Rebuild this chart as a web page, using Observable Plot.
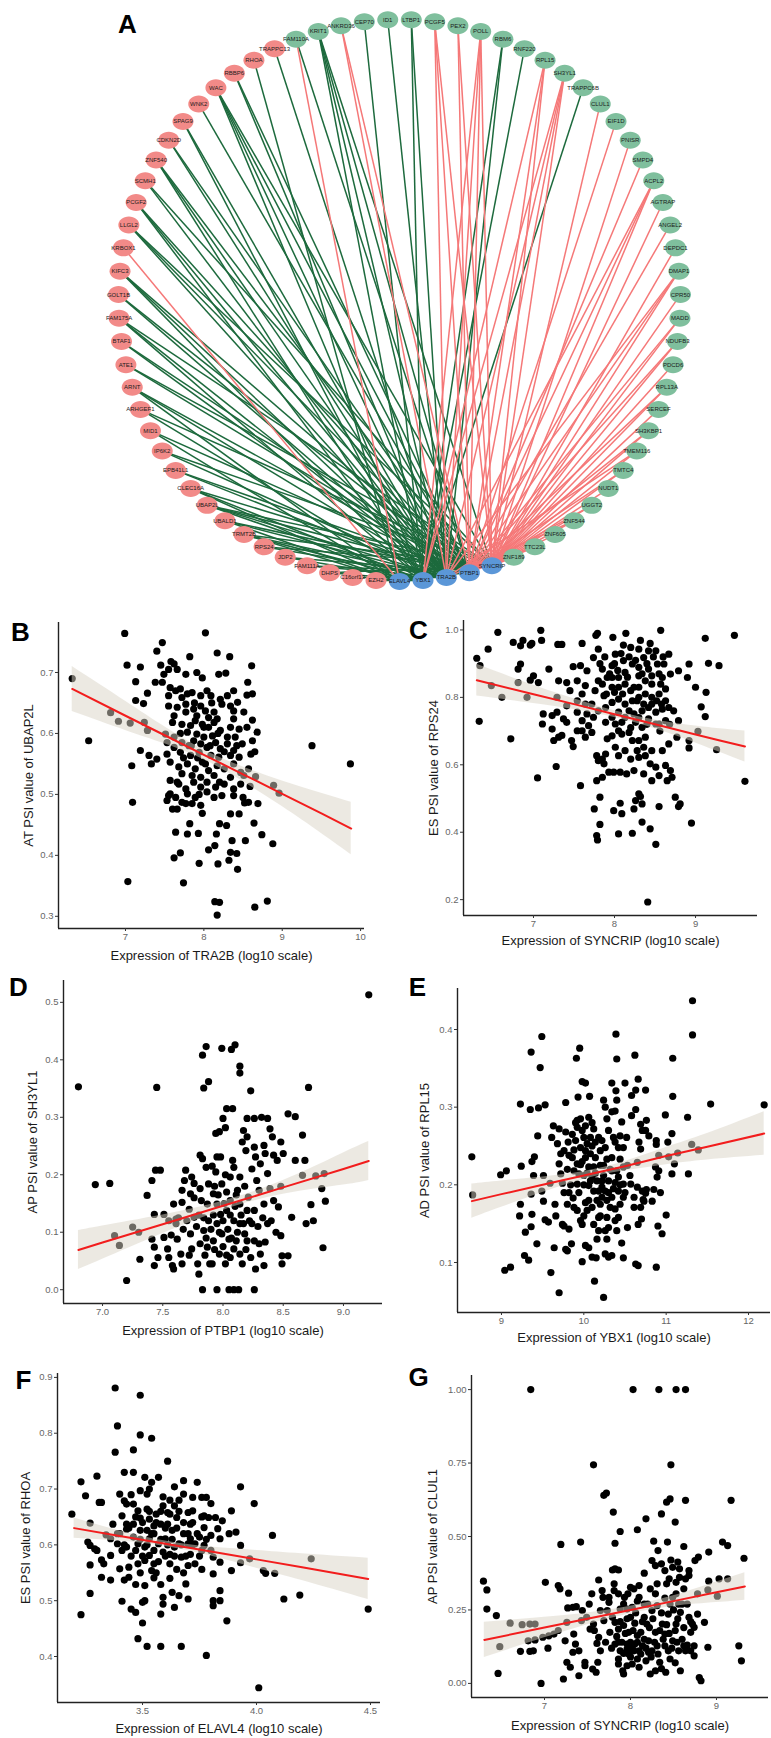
<!DOCTYPE html>
<html><head><meta charset="utf-8">
<script src="https://cdn.jsdelivr.net/npm/d3@7"></script>
<script src="https://cdn.jsdelivr.net/npm/@observablehq/plot@0.6"></script>
<style>
body{margin:0;background:#fff;}
#page{position:relative;width:771px;height:1738px;overflow:hidden;background:#fff;}
.panel{position:absolute;}
.panel svg{overflow:visible;}
</style></head><body><div id="page"></div>
<script>
// ---------------- Network (panel A) ----------------
const greenNodes = ["FAM110A","KRIT1","ANKRD36","CEP70","ID1","LTBP1","PCGF5","PEX2","POLL","RBM6","RNF220","RPL15","SH3YL1","TRAPPC6B","CLUL1","EIF1D","PNISR","SMPD4","ACPL2","AGTRAP","ANGEL2","DEPDC1","DMAP1","CPR50","MADD","NDUFB3","PDCD6","RPL13A","SERCEF","SH3KBP1","TMEM116","TMTC4","NUDT1","UGGT2","ZNF544","ZNF605","TTC23L","ZNF189"];
const hubNodes = ["SYNCRIP","PTBP1","TRA2B","YBX1","ELAVL4"];
const redNodes = ["EZH2","C16orf13","DHPS","FAM111A","JDP2","RPS24","TRMT2B","UBALD1","UBAP2L","CLEC16A","EPB41L1","IP6K2","MID1","ARHGEF1","ARNT","ATE1","BTAF1","FAM175A","GOLT1B","KIFC3","KRBOX1","LLGL2","PCGF2","SCMH1","ZNF540","CDKN2D","SPAG9","WNK2","WAC","RBBP6","RHOA","TRAPPC13"];
const hubCode = {E:"ELAVL4", Y:"YBX1", T:"TRA2B", P:"PTBP1", S:"SYNCRIP"};
const negativeEdges = [["WNK2","P"],["SPAG9","YT"],["WAC","YTPS"],["RBBP6","TP"],["RHOA","E"],["TRAPPC13","T"],["FAM110A","P"],["KRIT1","YTPS"],["CEP70","Y"],["ID1","T"],["LTBP1","YT"],["RBM6","YT"],["RNF220","Y"],["TRAPPC6B","Y"],["CDKN2D","TP"],["ZNF540","YTP"],["SCMH1","TS"],["PCGF2","YTP"],["LLGL2","TPS"],["KIFC3","YTP"],["GOLT1B","TP"],["FAM175A","YTS"],["BTAF1","TP"],["ATE1","PS"],["ARNT","ETP"],["ARHGEF1","YS"],["MID1","EP"],["IP6K2","TS"],["EPB41L1","TP"],["CLEC16A","EYP"],["UBAP2L","YTPS"],["UBALD1","ETP"],["TRMT2B","EYTS"],["RPS24","TS"],["JDP2","YP"],["FAM111A","TP"],["DHPS","YS"],["C16orf13","T"],["EZH2","YP"]];
const positiveEdges = [["FAM110A","E"],["KRBOX1","E"],["ANKRD36","TP"],["PCGF5","TPS"],["PEX2","PS"],["POLL","YTPS"],["RPL15","YPS"],["SH3YL1","YTPS"],["CLUL1","S"],["EIF1D","P"],["PNISR","S"],["SMPD4","P"],["ACPL2","TPS"],["AGTRAP","S"],["ANGEL2","P"],["DEPDC1","S"],["DMAP1","TPS"],["CPR50","S"],["MADD","PS"],["NDUFB3","PS"],["PDCD6","S"],["RPL13A","PS"],["SERCEF","S"],["SH3KBP1","PS"],["TMEM116","TS"],["TMTC4","PS"],["NUDT1","S"],["UGGT2","PS"],["ZNF544","TS"],["ZNF605","S"],["TTC23L","PS"],["ZNF189","S"]];

// ---------------- Scatter data ----------------
const pointsB = [[6.32,0.69],[6.53,0.588],[7.02,0.712],[7.19,0.709],[7.13,0.685],[7.13,0.654],[7.08,0.547],[7.09,0.487],[7.03,0.357],[6.81,0.634],[6.91,0.62],[7.06,0.617],[7.28,0.605],[7.24,0.618],[7.28,0.666],[7.23,0.649],[7.19,0.572],[7.30,0.564],[7.33,0.55],[7.40,0.558],[7.38,0.684],[7.45,0.712],[7.40,0.735],[6.99,0.764],[8.02,0.765],[7.47,0.749],[7.47,0.684],[7.49,0.697],[7.58,0.718],[7.62,0.714],[7.55,0.705],[7.66,0.705],[7.77,0.697],[7.82,0.726],[7.91,0.70],[7.98,0.691],[8.17,0.732],[8.19,0.697],[8.28,0.699],[8.33,0.726],[8.61,0.711],[8.56,0.684],[8.55,0.663],[8.62,0.665],[8.62,0.622],[8.68,0.602],[8.65,0.57],[8.66,0.529],[8.69,0.485],[8.74,0.434],[8.88,0.419],[8.81,0.325],[8.65,0.315],[9.38,0.58],[9.87,0.55],[8.89,0.515],[8.96,0.502],[8.17,0.302],[8.14,0.324],[8.2,0.323],[7.74,0.355],[7.62,0.396],[7.70,0.404],[7.64,0.438],[7.94,0.387],[7.98,0.469],[7.82,0.452],[7.79,0.435],[7.93,0.436],[8.06,0.409],[8.14,0.416],[8.18,0.386],[8.16,0.435],[8.2,0.452],[8.29,0.449],[8.36,0.424],[8.34,0.405],[8.42,0.403],[8.43,0.377],[8.32,0.392],[8.53,0.424],[8.64,0.453],[8.52,0.486],[8.38,0.498],[8.23,0.498],[8.34,0.468],[8.45,0.468],[8.57,0.487],[8.59,0.513],[8.5,0.495],
[7.57,0.675],[7.64,0.670],[7.70,0.673],[7.79,0.665],[7.72,0.659],[7.85,0.667],[7.55,0.662],[7.96,0.662],[8.04,0.670],[8.09,0.662],[8.21,0.656],[8.30,0.662],[8.38,0.670],[8.43,0.651],
[7.55,0.645],[7.66,0.643],[7.77,0.648],[7.87,0.640],[7.96,0.645],[8.02,0.637],[8.13,0.635],[8.23,0.648],[8.34,0.645],[8.38,0.637],[7.91,0.629],[8.06,0.626],[8.17,0.624],[7.77,0.635],[7.62,0.629],[8.38,0.624],[8.51,0.635],
[7.60,0.618],[7.72,0.615],[7.83,0.613],[7.89,0.621],[7.98,0.615],[8.06,0.610],[8.13,0.618],[8.21,0.605],[8.34,0.610],[8.45,0.607],[7.79,0.602],[7.91,0.599],[8.0,0.594],[8.11,0.596],[8.30,0.594],[8.40,0.594],[8.55,0.610],[7.51,0.599],[7.62,0.594],
[7.53,0.585],[7.62,0.577],[7.72,0.585],[7.81,0.580],[7.87,0.588],[7.96,0.583],[8.04,0.577],[8.15,0.585],[8.21,0.575],[8.30,0.583],[8.38,0.572],[8.49,0.583],[8.62,0.588],[7.70,0.569],[7.83,0.564],[7.94,0.569],[8.09,0.564],[8.19,0.561],[8.34,0.564],[8.45,0.561],[7.53,0.566],[8.60,0.566],
[7.57,0.553],[7.68,0.545],[7.79,0.55],[7.89,0.542],[7.98,0.553],[8.06,0.539],[8.17,0.547],[8.26,0.542],[8.38,0.55],[8.47,0.536],[8.57,0.542],[7.72,0.534],[7.85,0.531],[7.96,0.528],[8.13,0.531],[8.34,0.528],[8.51,0.531],
[7.57,0.523],[7.68,0.517],[7.77,0.509],[7.87,0.52],[7.96,0.512],[8.04,0.52],[8.15,0.512],[8.26,0.517],[8.38,0.509],[8.47,0.517],[7.57,0.501],[7.64,0.495],[7.79,0.501],[7.89,0.495],[8.04,0.504],[8.13,0.495],[7.53,0.49],[7.72,0.487],[7.85,0.485],[7.96,0.482],[7.60,0.476],[7.66,0.476],[7.77,0.485],[7.55,0.498],
[7.70,0.60],[7.74,0.56],[7.84,0.58],[7.92,0.56],[8.00,0.61],[8.08,0.58],[8.18,0.60],[8.26,0.57],[8.02,0.55],[7.88,0.65],[8.10,0.65],[7.66,0.52],[7.94,0.50],[8.20,0.52],[8.42,0.58]];
const fitB = {x:[6.32,7.0,7.5,8.0,8.5,9.0,9.5,9.88], y:[0.673,0.629,0.597,0.565,0.533,0.501,0.469,0.444], hw:[0.037,0.024,0.014,0.008,0.012,0.021,0.033,0.043]};

const pointsC = [[6.56,0.993],[6.87,0.969],[6.96,0.955],[7.09,0.999],[7.10,0.969],[7.30,0.957],[7.35,0.957],[7.6,0.96],[7.77,0.984],[7.79,0.99],[7.98,0.978],[8.14,0.99],[8.11,0.955],[8.32,0.969],[8.44,0.96],[8.57,0.999],[9.12,0.975],[9.48,0.984],
[6.30,0.916],[6.44,0.943],[6.75,0.963],[6.84,0.953],[6.98,0.96],[6.33,0.729],[6.34,0.894],[6.48,0.835],[6.61,0.80],[6.92,0.80],[6.81,0.844],[6.84,0.899],[6.81,0.884],[6.96,0.851],[7.0,0.864],[7.06,0.844],[6.72,0.677],[7.05,0.561],[7.28,0.595],[7.49,0.654],[7.58,0.538],[7.19,0.884],[7.12,0.751],[7.11,0.721],[7.23,0.706],[7.25,0.672],[7.31,0.682],[7.35,0.687],[7.23,0.746],[7.29,0.756],[7.31,0.849],[7.41,0.844],[7.45,0.82],[7.49,0.891],[7.54,0.849],[7.58,0.894],[7.66,0.879],[7.64,0.835],[7.60,0.81],[7.37,0.736],[7.41,0.726],[7.54,0.756],[7.60,0.731],[7.66,0.751],[7.64,0.78],[7.68,0.716],[7.60,0.701],[7.72,0.696],[7.74,0.918],[7.80,0.943],[7.85,0.884],[7.91,0.859],[7.97,0.894],[8.01,0.928],[7.80,0.849],[7.76,0.82],[7.87,0.805],[7.97,0.83],[8.05,0.859],[8.11,0.909],[8.20,0.948],[8.22,0.899],[8.30,0.864],[8.30,0.943],[8.36,0.918],[8.42,0.938],[8.51,0.938],[8.42,0.884],[8.53,0.899],[8.61,0.899],[8.67,0.928],[8.69,0.869],[8.79,0.879],[8.90,0.859],[8.92,0.899],[9.16,0.901],[9.29,0.894],[9.0,0.83],[9.07,0.772],[9.13,0.815],[9.12,0.743],[9.03,0.699],[8.92,0.672],[8.92,0.65],[9.26,0.645],[9.61,0.551],[8.95,0.427],[8.55,0.476],[8.51,0.364],[8.44,0.41],[8.34,0.43],[8.41,0.193],[8.22,0.397],[8.05,0.395],[7.82,0.423],[7.78,0.39],[7.79,0.377],[7.75,0.469],[7.82,0.504],[7.99,0.464],[8.07,0.486],[8.09,0.455],[8.24,0.469],[8.26,0.494],[8.30,0.514],[8.34,0.484],[8.32,0.506],[8.75,0.504],[8.81,0.484],[8.79,0.476],[8.55,0.721],[8.63,0.731],[8.73,0.76],[8.79,0.731],[8.77,0.682],[8.67,0.662],[8.59,0.642],[8.63,0.598],[8.69,0.583],[8.71,0.563],[8.65,0.553],[8.55,0.568],[8.51,0.593],[8.46,0.553],[8.36,0.573],[8.24,0.583],[8.15,0.573],[8.07,0.578],[7.99,0.578],[7.93,0.578],[7.85,0.563],[7.78,0.553],[7.78,0.627],[7.85,0.617],[7.87,0.603],[7.80,0.612],[7.89,0.632],[7.91,0.677],[7.97,0.686],[8.05,0.701],[8.09,0.691],[8.18,0.696],[8.22,0.672],[8.30,0.672],[8.34,0.711],[8.38,0.682],[8.36,0.652],[8.28,0.642],[8.20,0.617],[8.30,0.622],[8.38,0.627],[8.46,0.642],[8.44,0.603],[8.13,0.642],[8.05,0.627],[8.01,0.652],[7.64,0.682],[7.54,0.701],[7.47,0.672],
[7.89,0.77],[7.97,0.785],[8.05,0.795],[8.13,0.78],[8.22,0.79],[8.30,0.80],[8.38,0.81],[8.46,0.80],[8.55,0.81],[8.63,0.79],[8.67,0.77],[8.05,0.756],[8.13,0.741],[8.24,0.751],[8.34,0.76],[8.42,0.77],[8.51,0.756],[8.59,0.765],[7.97,0.741],[7.89,0.726],[8.01,0.721],[8.09,0.726],[8.26,0.726],[8.42,0.736],[8.51,0.721],[8.46,0.839],[8.38,0.849],[8.13,0.839],[8.24,0.83],[8.05,0.83],[8.57,0.839],[8.30,0.83],[8.63,0.825],[7.97,0.859],[8.13,0.874],[8.30,0.889],[8.46,0.864],[8.59,0.859],[7.85,0.839],[7.72,0.78],[7.80,0.76],[7.74,0.741],[7.54,0.79],[7.41,0.775],[7.29,0.80],
[7.82,0.90],[7.88,0.92],[7.94,0.87],[8.00,0.90],[8.04,0.88],[8.08,0.93],[8.16,0.86],[8.18,0.92],[8.26,0.91],[8.34,0.87],[8.40,0.90],[8.48,0.92],[8.55,0.87],[8.60,0.92],[7.90,0.81],[8.00,0.815],[8.10,0.81],[8.20,0.82],[8.28,0.79],[8.36,0.78],[8.46,0.78],[8.52,0.79],[8.58,0.78],[8.18,0.76],[8.30,0.74],[8.40,0.72],[8.20,0.71],[8.56,0.70],[8.68,0.72]];
const fitC = {x:[6.3,7.0,7.5,8.0,8.5,9.0,9.3,9.61], y:[0.851,0.809,0.780,0.750,0.720,0.690,0.672,0.654], hw:[0.047,0.027,0.016,0.010,0.013,0.025,0.035,0.046]};

const pointsD = [[9.21,0.513],[6.80,0.353],[6.94,0.183],[7.06,0.185],[7.10,0.094],[7.14,0.077],[7.25,0.109],[7.30,0.10],[7.20,0.016],[7.31,0.053],[7.37,0.164],[7.41,0.19],[7.44,0.208],[7.48,0.208],[7.45,0.352],[7.43,0.131],[7.51,0.131],[7.41,0.088],[7.43,0.074],[7.43,0.042],[7.46,0.056],[7.51,0.091],[7.54,0.071],[7.55,0.056],[7.58,0.042],[7.59,0.036],[7.61,0.115],[7.62,0.088],[7.65,0.062],[7.66,0.045],[7.69,0.208],[7.66,0.173],[7.66,0.152],[7.68,0.19],[7.74,0.196],[7.73,0.167],[7.59,0.149],[7.61,0.123],[7.70,0.12],[7.76,0.126],[7.73,0.097],[7.74,0.071],[7.79,0.045],[7.80,0.027],[7.81,0.234],[7.83,0.228],[7.81,0.176],[7.86,0.213],[7.83,0.408],[7.86,0.423],[7.84,0.351],[7.88,0.362],[7.94,0.272],[7.97,0.275],[7.95,0.231],[7.98,0.231],[8.0,0.298],[8.03,0.315],[8.08,0.315],[8.02,0.282],[7.99,0.42],[8.07,0.418],[8.10,0.426],[8.14,0.389],[8.14,0.377],[8.23,0.346],[8.20,0.298],[8.26,0.298],[8.32,0.30],[8.37,0.298],[8.39,0.28],[8.41,0.266],[8.48,0.257],[8.17,0.277],[8.20,0.266],[8.16,0.257],[8.19,0.242],[8.26,0.248],[8.27,0.231],[8.34,0.251],[8.35,0.237],[8.42,0.234],[8.45,0.225],[8.50,0.237],[8.31,0.219],[8.37,0.202],[8.54,0.306],[8.60,0.301],[8.66,0.269],[8.68,0.225],[8.60,0.225],[8.66,0.199],[8.77,0.198],[8.84,0.202],[8.82,0.176],[8.85,0.154],[8.73,0.148],[8.75,0.12],[8.69,0.115],[8.57,0.126],[8.83,0.073],[8.71,0.352],[8.48,0.094],[8.49,0.059],[8.49,0.045],[8.46,0.144],[8.42,0.155],[8.37,0.115],[8.35,0.083],[8.34,0.042],[8.27,0.036],[8.31,0.062],[8.26,0.085],[8.23,0.056],[8.24,0.115],[8.26,0.138],[8.21,0.161],[8.14,0.196],[8.09,0.213],[8.06,0.196],[8.12,0.173],[8.06,0.155],[7.99,0.184],[7.94,0.205],[7.92,0.167],[7.87,0.149],[7.88,0.184],[8.09,0.12],[8.14,0.115],[8.18,0.097],[8.11,0.085],[8.05,0.088],[7.99,0.097],[7.95,0.115],[7.92,0.085],[7.97,0.062],[8.02,0.045],[8.06,0.056],[8.09,0.071],[8.14,0.062],[7.87,0.074],[7.84,0.103],[7.81,0.08],[7.91,0.045],[7.98,0.131],[8.03,0.138],[8.14,0.149],[8.20,0.138],[8.30,0.173],[8.34,0.149],[7.95,0.149],[7.83,0.0],[7.95,0.0],[8.05,0.0],[8.09,0.0],[8.13,0.0],[8.26,0.0],[8.54,0.059],[8.48,0.18],[8.39,0.176],
[7.72,0.14],[7.76,0.16],[7.78,0.11],[7.80,0.13],[7.82,0.155],[7.84,0.125],[7.86,0.09],[7.88,0.12],[7.90,0.105],[7.92,0.13],[7.93,0.18],[7.96,0.165],[7.97,0.10],[8.00,0.12],[8.01,0.15],[8.03,0.17],[8.04,0.105],[8.06,0.13],[8.07,0.09],[8.10,0.145],[8.11,0.165],[8.12,0.10],[8.15,0.13],[8.17,0.115],[8.18,0.18],[8.20,0.085],[8.22,0.12],[8.24,0.21],[8.28,0.19],[8.29,0.11],[7.85,0.06],[7.89,0.045],[7.93,0.07],[8.00,0.075],[8.03,0.06],[8.16,0.045],[8.19,0.07],[7.76,0.185],[8.02,0.2],[8.08,0.225],[7.91,0.215],[7.72,0.06],[7.63,0.125],[7.67,0.105],[7.55,0.12],[7.57,0.095],[8.33,0.125],[8.40,0.12],[8.44,0.10],[8.30,0.08]];
const fitD = {x:[6.8,7.0,7.5,8.0,8.5,9.0,9.21], y:[0.069,0.082,0.114,0.146,0.178,0.210,0.224], hw:[0.034,0.029,0.016,0.008,0.012,0.028,0.034]};

const pointsE = [[8.64,0.236],[8.65,0.187],[8.99,0.213],[9.06,0.218],[9.04,0.09],[9.11,0.094],[9.23,0.304],[9.35,0.297],[9.36,0.371],[9.47,0.351],[9.49,0.391],[9.45,0.299],[9.53,0.303],[9.24,0.224],[9.23,0.175],[9.22,0.16],[9.29,0.139],[9.28,0.109],[9.33,0.103],[9.36,0.146],[9.37,0.162],[9.43,0.124],[9.36,0.188],[9.40,0.236],[9.44,0.263],[9.37,0.23],[9.39,0.212],[9.51,0.212],[9.49,0.192],[9.51,0.179],[9.53,0.155],[9.57,0.152],[9.59,0.202],[9.63,0.276],[9.70,0.272],[9.68,0.253],[9.61,0.261],[9.60,0.087],[9.64,0.119],[9.70,0.061],[9.70,0.227],[9.72,0.214],[9.74,0.202],[9.65,0.175],[9.66,0.16],[9.74,0.149],[9.76,0.147],[9.80,0.175],[9.82,0.19],[9.78,0.117],[9.80,0.115],[9.85,0.124],[9.82,0.143],[9.78,0.306],[9.78,0.268],[9.81,0.255],[9.76,0.244],[9.82,0.238],[9.88,0.218],[9.87,0.183],[9.92,0.201],[9.93,0.313],[9.91,0.363],[9.95,0.376],[9.98,0.333],[10.02,0.331],[9.92,0.283],[9.96,0.285],[9.98,0.27],[10.02,0.276],[10.06,0.287],[10.07,0.314],[10.12,0.272],[10.0,0.261],[10.04,0.253],[10.10,0.25],[10.02,0.235],[10.06,0.223],[10.14,0.235],[9.96,0.226],[10.0,0.212],[9.92,0.227],[10.06,0.199],[10.12,0.192],[10.02,0.177],[10.10,0.171],[10.04,0.167],[9.96,0.154],[9.98,0.149],[10.02,0.122],[10.06,0.119],[9.98,0.101],[10.10,0.107],[10.15,0.106],[10.13,0.076],[10.20,0.175],[10.18,0.158],[10.16,0.13],[10.24,0.212],[10.22,0.197],[10.26,0.192],[10.18,0.261],[10.22,0.257],[10.26,0.248],[10.20,0.225],[10.24,0.309],[10.26,0.30],[10.28,0.285],[10.34,0.331],[10.34,0.294],[10.38,0.295],[10.36,0.261],[10.38,0.255],[10.28,0.233],[10.34,0.218],[10.30,0.205],[10.38,0.203],[10.34,0.184],[10.32,0.171],[10.38,0.169],[10.28,0.158],[10.26,0.141],[10.28,0.13],[10.26,0.111],[10.30,0.107],[10.34,0.109],[10.24,0.055],[10.39,0.394],[10.40,0.362],[10.39,0.321],[10.40,0.309],[10.50,0.331],[10.46,0.281],[10.44,0.263],[10.48,0.248],[10.52,0.261],[10.44,0.233],[10.48,0.223],[10.53,0.225],[10.42,0.192],[10.44,0.175],[10.42,0.158],[10.40,0.141],[10.46,0.125],[10.48,0.106],[10.53,0.145],[10.56,0.212],[10.57,0.201],[10.61,0.184],[10.65,0.197],[10.58,0.289],[10.63,0.297],[10.58,0.315],[10.62,0.367],[10.63,0.322],[10.66,0.336],[10.69,0.278],[10.71,0.27],[10.67,0.255],[10.69,0.246],[10.65,0.229],[10.61,0.171],[10.69,0.171],[10.70,0.156],[10.66,0.149],[10.63,0.098],[10.66,0.096],[10.71,0.192],[10.72,0.181],[10.75,0.322],[10.76,0.283],[10.75,0.27],[10.79,0.263],[10.75,0.189],[10.76,0.194],[10.73,0.179],[10.83,0.179],[10.85,0.194],[10.87,0.223],[10.88,0.257],[10.88,0.252],[10.91,0.238],[10.91,0.218],[10.89,0.21],[10.90,0.147],[10.95,0.137],[10.93,0.19],[10.88,0.094],[10.99,0.29],[11.0,0.161],[11.02,0.255],[11.03,0.236],[11.07,0.266],[11.07,0.214],[11.08,0.314],[11.08,0.363],[11.10,0.227],[11.14,0.241],[11.26,0.287],[11.27,0.214],[11.31,0.252],[11.32,0.393],[11.32,0.437],[11.39,0.245],[11.54,0.304],[12.19,0.303],
[9.90,0.257],[9.96,0.248],[10.02,0.244],[10.08,0.261],[10.14,0.255],[10.20,0.244],[9.86,0.235],[9.94,0.214],[10.10,0.21],[10.16,0.205],[10.22,0.184],[10.28,0.18],[10.18,0.192],[10.12,0.223],[10.34,0.235],[10.42,0.248],[10.40,0.218],[10.48,0.201],[10.38,0.154],[10.30,0.145],[9.86,0.265],[9.92,0.274],[10.08,0.24],[10.18,0.141],[10.12,0.149],[9.88,0.171],[9.92,0.167],[10.42,0.21],[10.48,0.184],
[9.72,0.24],[9.76,0.19],[9.80,0.22],[9.84,0.20],[9.88,0.245],[9.94,0.19],[9.98,0.23],[10.00,0.20],[10.04,0.215],[10.06,0.18],[10.08,0.205],[10.14,0.215],[10.16,0.18],[10.22,0.205],[10.24,0.225],[10.30,0.19],[10.32,0.22],[10.36,0.195],[10.44,0.2],[10.50,0.19],[9.90,0.28],[10.10,0.28],[10.30,0.27],[10.00,0.16],[10.20,0.16]];
const fitE = {x:[8.64,9.0,9.5,10.0,10.5,11.0,11.5,12.19], y:[0.179,0.188,0.200,0.212,0.224,0.237,0.249,0.266], hw:[0.022,0.017,0.010,0.005,0.006,0.011,0.017,0.028]};

const pointsF = [[3.19,0.655],[3.23,0.713],[3.23,0.475],[3.25,0.688],[3.27,0.564],[3.27,0.639],[3.27,0.513],[3.26,0.605],[3.27,0.599],[3.29,0.593],[3.30,0.59],[3.30,0.723],[3.31,0.676],[3.32,0.542],[3.32,0.573],[3.34,0.618],[3.33,0.566],[3.32,0.676],[3.36,0.537],[3.36,0.611],[3.36,0.581],[3.38,0.881],[3.39,0.813],[3.38,0.766],[3.37,0.637],[3.39,0.62],[3.40,0.557],[3.40,0.691],[3.39,0.602],[3.42,0.537],[3.41,0.59],[3.41,0.499],[3.41,0.652],[3.42,0.679],[3.42,0.73],[3.43,0.673],[3.43,0.637],[3.43,0.628],[3.43,0.596],[3.44,0.542],[3.45,0.485],[3.46,0.77],[3.46,0.73],[3.46,0.637],[3.46,0.614],[3.47,0.479],[3.47,0.529],[3.48,0.566],[3.48,0.602],[3.49,0.797],[3.49,0.697],[3.49,0.648],[3.48,0.432],[3.49,0.868],[3.50,0.497],[3.50,0.46],[3.51,0.721],[3.51,0.527],[3.51,0.50],[3.51,0.572],[3.52,0.664],[3.52,0.691],[3.52,0.418],[3.53,0.611],[3.53,0.646],[3.53,0.581],[3.54,0.791],[3.54,0.712],[3.55,0.566],[3.55,0.541],[3.55,0.634],[3.56,0.655],[3.57,0.602],[3.57,0.721],[3.58,0.418],[3.58,0.529],[3.58,0.476],[3.59,0.506],[3.59,0.494],[3.59,0.587],[3.59,0.686],[3.59,0.67],[3.60,0.611],[3.61,0.75],[3.61,0.637],[3.62,0.566],[3.62,0.583],[3.63,0.626],[3.63,0.515],[3.64,0.488],[3.64,0.704],[3.64,0.67],[3.65,0.649],[3.65,0.556],[3.66,0.602],[3.66,0.509],[3.67,0.418],[3.68,0.715],[3.68,0.691],[3.68,0.62],[3.69,0.53],[3.70,0.503],[3.70,0.563],[3.70,0.658],[3.71,0.637],[3.71,0.583],[3.71,0.611],[3.72,0.685],[3.72,0.661],[3.73,0.602],[3.74,0.712],[3.75,0.614],[3.76,0.59],[3.76,0.556],[3.76,0.685],[3.77,0.631],[3.78,0.685],[3.77,0.599],[3.78,0.402],[3.80,0.674],[3.80,0.617],[3.81,0.578],[3.81,0.548],[3.81,0.50],[3.81,0.491],[3.82,0.649],[3.83,0.629],[3.84,0.569],[3.84,0.50],[3.84,0.518],[3.84,0.611],[3.85,0.643],[3.87,0.464],[3.88,0.62],[3.89,0.661],[3.89,0.554],[3.91,0.623],[3.93,0.599],[3.93,0.704],[3.93,0.568],[3.97,0.575],[3.99,0.674],[4.03,0.554],[4.04,0.549],[4.01,0.344],[4.07,0.617],[4.08,0.549],[4.12,0.503],[4.19,0.51],[4.24,0.575],[4.49,0.485],
[3.46,0.673],[3.49,0.626],[3.52,0.626],[3.55,0.62],[3.58,0.637],[3.61,0.658],[3.64,0.596],[3.67,0.578],[3.70,0.602],[3.73,0.566],[3.77,0.652],[3.79,0.649],[3.54,0.554],[3.51,0.596],[3.48,0.661],
[3.40,0.62],[3.42,0.60],[3.44,0.63],[3.45,0.58],[3.47,0.65],[3.47,0.59],[3.49,0.61],[3.50,0.64],[3.50,0.58],[3.52,0.60],[3.53,0.66],[3.54,0.62],[3.55,0.59],[3.56,0.64],[3.57,0.57],[3.58,0.66],[3.58,0.61],[3.60,0.63],[3.60,0.58],[3.61,0.60],[3.62,0.655],[3.63,0.61],[3.64,0.58],[3.65,0.63],[3.66,0.66],[3.67,0.60],[3.68,0.64],[3.69,0.58],[3.70,0.62],[3.72,0.60],[3.72,0.64],[3.74,0.62],[3.75,0.58],[3.76,0.65],[3.78,0.61],[3.80,0.59],[3.44,0.56],[3.49,0.55],[3.56,0.55],[3.62,0.54],[3.68,0.55],[3.45,0.69],[3.53,0.70],[3.62,0.68],[3.66,0.68]];
const fitF = {x:[3.2,3.4,3.6,3.8,4.0,4.2,4.49], y:[0.630,0.616,0.602,0.588,0.574,0.560,0.539], hw:[0.018,0.009,0.005,0.008,0.016,0.024,0.037]};

const pointsG = [[6.84,1.0],[8.03,1.0],[8.33,1.0],[8.53,1.0],[8.64,1.0],[7.57,0.744],[8.47,0.744],[7.69,0.64],[7.72,0.648],[7.80,0.583],[7.88,0.517],[7.42,0.481],[7.19,0.473],[7.82,0.477],[8.08,0.523],[8.18,0.56],[8.36,0.577],[8.42,0.617],[8.46,0.628],[8.52,0.549],[8.64,0.623],[9.17,0.623],[8.27,0.484],[8.32,0.452],[8.43,0.481],[8.62,0.466],[9.07,0.481],[9.13,0.469],[8.91,0.447],[8.79,0.43],[8.75,0.418],[9.32,0.426],[8.47,0.42],[8.55,0.413],[8.25,0.418],[8.29,0.401],[8.36,0.407],[8.40,0.384],[8.49,0.395],[8.57,0.39],[8.68,0.384],[8.68,0.367],[8.64,0.356],[8.57,0.361],[8.53,0.344],[8.45,0.356],[8.42,0.339],[8.31,0.339],[8.23,0.322],[8.16,0.375],[8.10,0.333],[8.04,0.322],[8.00,0.327],[7.97,0.305],[7.93,0.293],[7.86,0.305],[7.82,0.39],[7.79,0.386],[7.86,0.386],[7.81,0.339],[7.81,0.316],[7.63,0.352],[7.55,0.305],[7.52,0.27],[7.67,0.316],[7.68,0.293],[7.75,0.293],[7.16,0.333],[7.18,0.322],[7.28,0.307],[7.01,0.344],[8.91,0.348],[9.03,0.356],[9.13,0.356],[9.01,0.297],[8.90,0.318],[8.78,0.305],[8.86,0.208],[8.90,0.123],[8.80,0.02],[8.82,0.009],[9.26,0.128],[9.29,0.077],[8.58,0.043],[8.41,0.038],[8.23,0.032],[7.91,0.043],[7.92,0.032],[7.60,0.038],[7.56,0.049],[7.40,0.026],[7.22,0.015],[6.96,0.0],[6.46,0.034],[6.29,0.348],[6.33,0.318],[6.33,0.253],[6.44,0.231],[6.48,0.125],[6.60,0.205],[6.74,0.20],[6.72,0.109],[6.81,0.145],[6.83,0.202],[6.89,0.202],[6.83,0.109],[6.87,0.111],[6.89,0.148],[6.98,0.157],[7.05,0.162],[7.11,0.168],[7.04,0.12],[7.24,0.145],[7.26,0.208],[7.26,0.072],[7.30,0.055],[7.27,0.257],[7.33,0.259],[7.37,0.261],[7.40,0.111],[7.34,0.168],[7.36,0.134],[7.43,0.214],[7.47,0.072],[7.47,0.06],[7.53,0.185],[7.57,0.202],[7.58,0.18],[7.61,0.136],[7.65,0.111],[7.62,0.072],[7.69,0.214],[7.73,0.248],[7.71,0.14],[7.79,0.225],[7.82,0.208],[7.86,0.185],[7.92,0.197],[7.86,0.14],[7.88,0.111],[7.86,0.083],[7.92,0.102],[7.96,0.134],[7.98,0.174],[8.00,0.225],[8.02,0.259],[8.05,0.205],[8.08,0.163],[8.05,0.134],[8.04,0.111],[8.10,0.111],[8.08,0.083],[8.02,0.066],[8.18,0.077],[8.12,0.174],[8.16,0.225],[8.19,0.202],[8.21,0.145],[8.25,0.111],[8.29,0.174],[8.25,0.248],[8.31,0.265],[8.34,0.072],[8.37,0.202],[8.40,0.168],[8.40,0.128],[8.44,0.111],[8.44,0.236],[8.46,0.27],[8.49,0.293],[8.53,0.305],[8.56,0.27],[8.58,0.242],[8.53,0.202],[8.49,0.145],[8.54,0.14],[8.56,0.111],[8.62,0.128],[8.64,0.111],[8.68,0.225],[8.72,0.202],[8.74,0.191],[8.70,0.174],[8.74,0.128],[8.70,0.111],[8.74,0.094],[8.78,0.236],[8.66,0.27],[8.62,0.322],[8.60,0.27],[8.29,0.305],[8.10,0.293],[8.16,0.27],[7.96,0.253],[7.88,0.253],[7.75,0.276],[7.65,0.248],[7.44,0.248],[7.49,0.225],[7.16,0.18],[7.33,0.106],[7.63,0.157],[7.76,0.174],[7.82,0.134],[7.96,0.117],[8.00,0.14],[8.14,0.128],[8.21,0.106],[8.31,0.128],[8.46,0.083],[7.86,0.066],[7.96,0.06],[8.10,0.055],[8.29,0.043],
[7.84,0.16],[7.88,0.21],[7.90,0.14],[7.94,0.17],[7.96,0.22],[7.98,0.10],[8.02,0.12],[8.03,0.18],[8.06,0.24],[8.08,0.14],[8.12,0.10],[8.14,0.21],[8.16,0.15],[8.18,0.12],[8.22,0.19],[8.24,0.09],[8.26,0.22],[8.28,0.14],[8.32,0.10],[8.34,0.18],[8.36,0.24],[8.38,0.15],[8.42,0.20],[8.45,0.17],[8.48,0.12],[8.50,0.25],[8.52,0.18],[8.55,0.22],[8.60,0.15],[8.62,0.19],[8.66,0.13],[8.70,0.21],[8.08,0.28],[8.20,0.27],[8.40,0.29],[7.92,0.27],[8.00,0.09],[8.36,0.05],[8.52,0.07],[7.78,0.12]];
const fitG = {x:[6.3,7.0,7.5,8.0,8.5,9.0,9.33], y:[0.148,0.190,0.220,0.250,0.280,0.310,0.330], hw:[0.060,0.035,0.020,0.013,0.018,0.035,0.047]};

// tick values
const ticksB = {x:[7,8,9,10], y:[0.3,0.4,0.5,0.6,0.7]};
const ticksC = {x:[7,8,9], y:[0.2,0.4,0.6,0.8,1.0]};
const ticksD = {x:[7.0,7.5,8.0,8.5,9.0], y:[0.0,0.1,0.2,0.3,0.4,0.5]};
const ticksE = {x:[9,10,11,12], y:[0.1,0.2,0.3,0.4]};
const ticksF = {x:[3.5,4.0,4.5], y:[0.4,0.5,0.6,0.7,0.8,0.9]};
const ticksG = {x:[7,8,9], y:[0.00,0.25,0.50,0.75,1.00]};

// ---------------- drawing ----------------
const FONT = "'Liberation Sans', Arial, Helvetica, sans-serif";
const page = document.getElementById("page");
function place(node, left, top){ const d = document.createElement("div"); d.className="panel"; d.style.left=left+"px"; d.style.top=top+"px"; d.appendChild(node); page.appendChild(d); }

// network layout
const allNodes = [
  ...greenNodes.map(n=>({name:n, group:"green"})),
  ...hubNodes.map(n=>({name:n, group:"hub"})),
  ...redNodes.map(n=>({name:n, group:"red"}))
];
const step = 360 / allNodes.length;
allNodes.forEach((d,i)=>{ const a = (-90 + (i - 4.5) * step) * Math.PI / 180; d.cx = Math.cos(a); d.cy = Math.sin(a); });
const byName = new Map(allNodes.map(d=>[d.name,d]));
function expand(list, sign){ const out=[]; for(const [n, hubs] of list){ for(const h of hubs){ const a=byName.get(n), b=byName.get(hubCode[h]); out.push({x1:a.cx,y1:a.cy,x2:b.cx,y2:b.cy,sign}); } } return out; }
const negLinks = expand(negativeEdges, -1), posLinks = expand(positiveEdges, 1);
const kap = 0.5523;
const ellipse = {draw(ctx){ const rx=10.5, ry=8.5; ctx.moveTo(rx,0); ctx.bezierCurveTo(rx,kap*ry,kap*rx,ry,0,ry); ctx.bezierCurveTo(-kap*rx,ry,-rx,kap*ry,-rx,0); ctx.bezierCurveTo(-rx,-kap*ry,-kap*rx,-ry,0,-ry); ctx.bezierCurveTo(kap*rx,-ry,rx,-kap*ry,rx,0); ctx.closePath(); }};
const nodeColor = {green:"#7fbf9d", hub:"#5b97d8", red:"#f28a88"};
const center = {textAnchor:"middle", lineAnchor:"middle"};

const net = Plot.plot({
  width:771, height:600, margin:0,
  style:{fontFamily:FONT, background:"transparent"},
  x:{domain:[-399/281, 372/281], axis:null},
  y:{domain:[300/281, -300/281], axis:null},
  marks:[
    Plot.link(negLinks,{x1:"x1",y1:"y1",x2:"x2",y2:"y2", stroke:"#1d6a3d", strokeWidth:1.5}),
    Plot.link(posLinks,{x1:"x1",y1:"y1",x2:"x2",y2:"y2", stroke:"#f57878", strokeWidth:1.5}),
    Plot.dot(allNodes,{x:"cx", y:"cy", symbol:ellipse, r:9, fill:d=>nodeColor[d.group], stroke:"none"}),
    Plot.text(allNodes,{x:"cx", y:"cy", text:"name", fontSize:6, fill:"#1a1a1a"}),
    Plot.text(["A"],{text:d=>d, frameAnchor:"top-left", ...center, dx:127, dy:24, fontSize:26, fontWeight:"bold", fill:"#000"})
  ]
});
place(net, 0, 0);

function scatter(c){
  const band = c.fit.x.map((x,i)=>({x, lo:c.fit.y[i]-c.fit.hw[i], hi:c.fit.y[i]+c.fit.hw[i]}));
  const line = c.fit.x.map((x,i)=>({x, y:c.fit.y[i]}));
  return Plot.plot({
    width:c.w, height:c.h, marginLeft:c.ml, marginRight:c.mr, marginTop:c.mt, marginBottom:c.mb,
    style:{fontFamily:FONT, background:"transparent", overflow:"visible"},
    x:{domain:c.xDomain}, y:{domain:c.yDomain},
    marks:[
      Plot.dot(c.points,{x:d=>d[0], y:d=>d[1], r:3.6, fill:"#000", stroke:"none"}),
      Plot.areaY(band,{x:"x", y1:"lo", y2:"hi", fill:"#d9d3c6", fillOpacity:0.5, curve:"natural"}),
      Plot.line(line,{x:"x", y:"y", stroke:"#f21d1d", strokeWidth:2}),
      Plot.ruleX([c.xDomain[0]],{stroke:"#222", strokeWidth:1.4}),
      Plot.ruleY([c.yDomain[0]],{stroke:"#222", strokeWidth:1.4}),
      Plot.axisX({ticks:c.ticks.x, tickFormat:c.xFmt, tickSize:3, tickPadding:2, fontSize:9.5, stroke:"#333", fill:"#666", label:null}),
      Plot.axisY({ticks:c.ticks.y, tickFormat:c.yFmt, tickSize:3, tickPadding:2, fontSize:9.5, stroke:"#333", fill:"#666", label:null}),
      Plot.text([c.xTitle],{text:d=>d, frameAnchor:"bottom", ...center, dy:c.xdy, fontSize:13, fill:"#1a1a1a"}),
      Plot.text([c.yTitle],{text:d=>d, frameAnchor:"left", ...center, dx:c.ydx, rotate:-90, fontSize:13, fill:"#1a1a1a"}),
      Plot.text([c.letter],{text:d=>d, frameAnchor:"top-left", ...center, dx:c.ldx, dy:c.ldy, fontSize:26, fontWeight:"bold", fill:"#000"})
    ]
  });
}
const intFmt = d=>String(d), f1 = d3.format(".1f"), f2 = d3.format(".2f");
const panels = [
  {left:0, top:600, w:385, h:375, ml:58, mr:21, mt:22, mb:47, xDomain:[6.145,10.05], yDomain:[0.280,0.782], points:pointsB, fit:fitB, ticks:ticksB, xFmt:intFmt, yFmt:f1, xTitle:"Expression of TRA2B (log10 scale)", yTitle:"AT PSI value of UBAP2L", letter:"B", xdy:27, ydx:-30, ldx:-38, ldy:10},
  {left:385, top:600, w:386, h:375, ml:78, mr:14, mt:20, mb:60, xDomain:[6.136,9.765], yDomain:[0.153,1.028], points:pointsC, fit:fitC, ticks:ticksC, xFmt:intFmt, yFmt:f1, xTitle:"Expression of SYNCRIP (log10 scale)", yTitle:"ES PSI value of RPS24", letter:"C", xdy:25, ydx:-30, ldx:-45, ldy:10},
  {left:0, top:975, w:385, h:370, ml:63, mr:3, mt:5, mb:42, xDomain:[6.676,9.324], yDomain:[-0.024,0.538], points:pointsD, fit:fitD, ticks:ticksD, xFmt:f1, yFmt:f1, xTitle:"Expression of PTBP1 (log10 scale)", yTitle:"AP PSI value of SH3YL1", letter:"D", xdy:27, ydx:-31, ldx:-45, ldy:7},
  {left:385, top:975, w:386, h:370, ml:72, mr:1, mt:13, mb:33, xDomain:[8.466,12.267], yDomain:[0.0356,0.4528], points:pointsE, fit:fitE, ticks:ticksE, xFmt:intFmt, yFmt:f1, xTitle:"Expression of YBX1 (log10 scale)", yTitle:"AD PSI value of RPL15", letter:"E", xdy:25, ydx:-33, ldx:-40, ldy:-1},
  {left:0, top:1345, w:385, h:393, ml:57, mr:5, mt:28, mb:36, xDomain:[3.127,4.544], yDomain:[0.3176,0.907], points:pointsF, fit:fitF, ticks:ticksF, xFmt:f1, yFmt:f1, xTitle:"Expression of ELAVL4 (log10 scale)", yTitle:"ES PSI value of RHOA", letter:"F", xdy:26, ydx:-32, ldx:-34, ldy:7},
  {left:385, top:1345, w:386, h:393, ml:86, mr:3, mt:30, mb:41, xDomain:[6.151,9.605], yDomain:[-0.048,1.048], points:pointsG, fit:fitG, ticks:ticksG, xFmt:intFmt, yFmt:f2, xTitle:"Expression of SYNCRIP (log10 scale)", yTitle:"AP PSI value of CLUL1", letter:"G", xdy:28, ydx:-39, ldx:-53, ldy:2}
];
for (const p of panels) place(scatter(p), p.left, p.top);
</script></body></html>
